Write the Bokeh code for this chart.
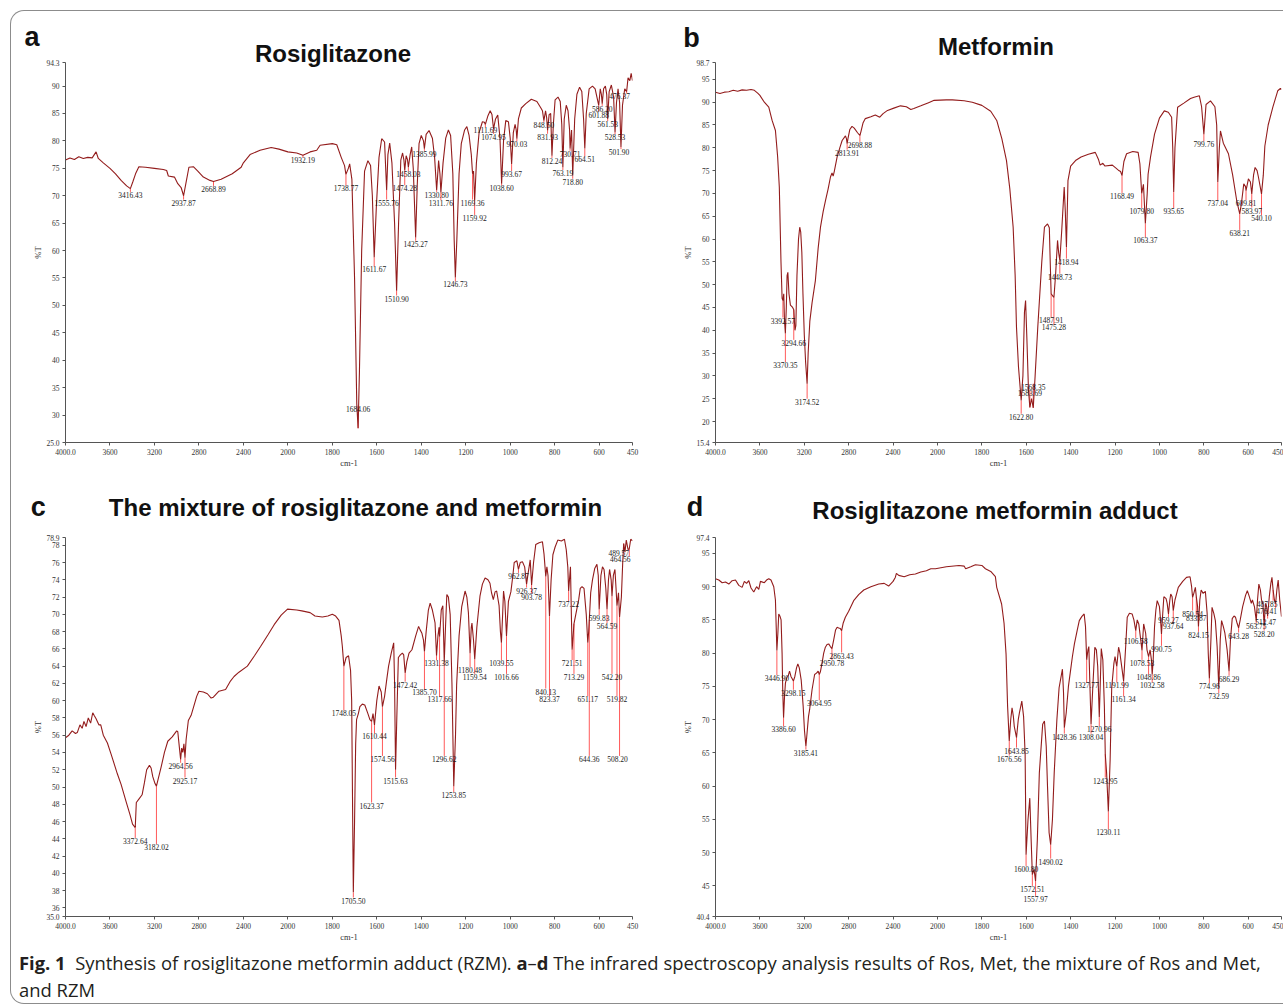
import numpy as np
from bokeh.plotting import figure
from bokeh.models import Range1d, FixedTicker, Div, ColumnDataSource
from bokeh.layouts import column, row
from bokeh.core.properties import value
from bokeh.embed import file_html
from bokeh.resources import INLINE

# ---------------- shared axis ticks (wavenumber, cm-1) ----------------
X_TICKS = [4000, 3600, 3200, 2800, 2400, 2000, 1800, 1600, 1400, 1200, 1000, 800, 600, 450]
X_TICK_LABELS = ["4000.0", "3600", "3200", "2800", "2400", "2000", "1800", "1600",
                 "1400", "1200", "1000", "800", "600", "450"]

# ---------------- panel a: Rosiglitazone ----------------
A_WN = [4000, 3960, 3920, 3880, 3840, 3800, 3760, 3725, 3705, 3660, 3600, 3550, 3500, 3450,
        3416.43, 3395, 3370, 3340, 3280, 3200, 3120, 3090, 3075, 3020, 2990, 2960, 2937.87,
        2915, 2890, 2850, 2810, 2760, 2700, 2668.89, 2600, 2500, 2420, 2400, 2340, 2250, 2150,
        2080, 2000, 1960, 1932.19, 1900, 1870, 1855, 1800, 1780, 1760, 1745, 1738.77, 1728,
        1722, 1712, 1700, 1690, 1684.06, 1678, 1668, 1655, 1640, 1628, 1620, 1611.67, 1602,
        1590, 1578, 1565, 1560, 1555.76, 1550, 1542, 1532, 1520, 1510.90, 1502, 1492, 1484,
        1478, 1474.28, 1468, 1462, 1458.03, 1450, 1443, 1436, 1430, 1425.27, 1418, 1410, 1400,
        1390, 1385.99, 1378, 1365, 1350, 1340, 1330.80, 1322, 1316, 1311.76, 1302, 1290, 1278,
        1268, 1258, 1252, 1246.73, 1240, 1230, 1220, 1205, 1195, 1185, 1175, 1169.36, 1165,
        1159.92, 1152, 1140, 1125, 1116, 1111.69, 1100, 1090, 1082, 1074.95, 1066, 1056, 1046,
        1038.60, 1030, 1020, 1008, 1000, 993.67, 986, 978, 973, 970.03, 963, 950, 930, 905,
        880, 862, 855, 848.50, 841, 836, 831.93, 825, 818, 812.24, 806, 798, 785, 775, 768,
        763.19, 757, 748, 740, 733, 730.71, 724, 718.80, 710, 700, 688, 678, 670, 664.51, 658,
        645, 630, 618, 610, 601.88, 595, 590, 586.20, 580, 572, 566, 561.53, 555, 545, 535,
        528.53, 522, 515, 508, 501.90, 495, 485, 476.37, 470, 462, 456, 450]
A_T = [76.5, 76.9, 76.6, 77.1, 76.8, 77.0, 76.9, 78.0, 76.8, 76.0, 75.0, 74.0, 72.8, 71.8,
       71.3, 72.5, 74.0, 75.3, 75.2, 75.0, 74.8, 74.6, 73.6, 73.4, 72.2, 71.5, 70.0,
       72.5, 75.2, 75.3, 74.5, 73.4, 72.8, 72.6, 73.0, 74.0, 75.2, 76.0, 77.5, 78.3, 78.8,
       78.5, 78.0, 77.8, 77.4, 78.0, 78.3, 79.2, 79.5, 79.3, 77.0, 75.5, 73.9, 75.0,
       75.8, 73.0, 55.0, 32.0, 27.6, 38.0, 60.0, 74.5, 76.4, 75.5, 70.0, 58.8, 68.0,
       77.0, 80.4, 79.8, 75.0, 71.0, 77.5, 79.6, 76.0, 65.0, 52.7, 65.0, 76.5, 77.8,
       76.5, 74.6, 77.3, 76.6, 75.2, 77.5, 78.9, 75.0, 68.0, 62.4, 72.0, 79.5, 81.0,
       80.0, 78.6, 81.2, 81.9, 80.5, 77.0, 71.0, 76.4, 74.0, 70.6, 76.0, 80.5, 82.0,
       81.0, 74.0, 62.0, 55.1, 62.0, 74.0, 79.5, 82.0, 82.6, 81.0, 77.5, 74.0, 74.5,
       69.1, 76.0, 81.5, 83.5, 83.4, 83.0, 84.6, 85.5, 84.8, 82.2, 84.0, 84.7, 80.5,
       72.2, 80.0, 83.7, 83.5, 80.5, 75.8, 81.5, 83.0, 82.0, 80.4, 84.0, 86.0, 86.8, 87.6,
       87.2, 86.0, 85.5, 83.7, 85.5, 84.2, 81.9, 84.8, 85.0, 77.3, 83.0, 87.5, 88.0, 87.2, 83.0,
       75.2, 84.0, 86.5, 85.5, 82.0, 78.6, 82.0, 73.7, 84.0, 88.5, 89.8, 89.0, 84.0, 78.6, 85.0,
       89.5, 90.0, 89.5, 88.0, 86.5, 89.5, 88.5, 86.8, 89.5, 90.0, 88.5, 84.0, 89.0, 90.2, 88.0,
       81.6, 87.0, 89.5, 87.0, 78.9, 86.5, 89.5, 89.0, 91.5, 91.0, 92.3, 91.0]
A_PEAK_LABEL = ["3416.43", "2937.87", "2668.89", "1932.19", "1738.77", "1684.06", "1611.67",
                "1555.76", "1510.90", "1474.28", "1458.03", "1425.27", "1385.99", "1330.80",
                "1311.76", "1246.73", "1169.36", "1159.92", "1111.69", "1074.95", "1038.60",
                "993.67", "970.03", "848.50", "831.93", "812.24", "763.19", "730.71", "718.80",
                "664.51", "601.88", "586.20", "561.53", "528.53", "501.90", "476.37"]
A_PEAK_T = [71.3, 70.0, 72.6, 77.4, 73.9, 27.6, 58.8, 71.0, 52.7, 74.6, 75.2, 62.4, 78.6, 71.0,
            70.6, 55.1, 74.0, 69.1, 83.0, 82.2, 72.2, 75.8, 80.4, 83.7, 81.9, 77.3, 75.2, 78.6,
            73.7, 78.6, 86.5, 86.8, 84.0, 81.6, 78.9, 89.0]
A_PEAK_LY = [70.7, 69.3, 71.8, 77.0, 71.9, 31.7, 57.1, 69.3, 51.8, 71.9, 74.5, 61.8, 78.2, 70.7,
             69.2, 54.4, 69.3, 66.5, 82.5, 81.3, 71.9, 74.5, 79.9, 83.4, 81.3, 76.9, 74.7, 78.2,
             73.1, 77.2, 85.3, 86.4, 83.6, 81.2, 78.5, 88.7]
A_LABEL_SHIFT = {"476.37": -7, "501.90": -2}
A_Y_TICKS = [25.0, 30, 35, 40, 45, 50, 55, 60, 65, 70, 75, 80, 85, 90, 94.3]
A_Y_LABELS = ["25.0", "30", "35", "40", "45", "50", "55", "60", "65", "70", "75", "80", "85", "90", "94.3"]

# ---------------- panel b: Metformin ----------------
B_WN = [4000, 3960, 3920, 3880, 3840, 3800, 3760, 3720, 3680, 3650, 3620, 3600, 3560, 3520,
        3490, 3460, 3440, 3425, 3410, 3400, 3392.57, 3385, 3378, 3370.35, 3362, 3355, 3348,
        3338, 3325, 3305, 3294.66, 3284, 3276, 3266, 3252, 3241, 3232, 3222, 3212, 3200, 3188,
        3174.52, 3165, 3150, 3130, 3100, 3075, 3054, 3030, 3009, 2985, 2964, 2950, 2940, 2930,
        2904, 2880, 2859, 2829, 2820, 2813.91, 2805, 2790, 2770, 2750, 2720, 2698.88, 2690,
        2670, 2650, 2600, 2560, 2520, 2490, 2450, 2393, 2333, 2280, 2240, 2213, 2150, 2080,
        2030, 1960, 1933, 1880, 1843, 1800, 1760, 1733, 1710, 1689, 1674, 1659, 1650, 1644,
        1635, 1622.80, 1615, 1608, 1603, 1597, 1590, 1583.69, 1576, 1568.35, 1560, 1548, 1530,
        1518, 1504, 1496, 1492, 1487.91, 1480, 1475.28, 1468, 1459, 1454, 1448.73, 1440, 1429,
        1424, 1418.94, 1412, 1400, 1378, 1353, 1320, 1289, 1275, 1267, 1255, 1245, 1212, 1185,
        1175, 1168.49, 1160, 1148, 1120, 1096, 1088, 1079.80, 1072, 1063.37, 1055, 1051, 1040,
        1022, 1000, 978, 960, 945, 940, 935.65, 930, 918, 890, 860, 844, 820, 810, 799.76, 790,
        770, 750, 742, 737.04, 730, 725, 712, 689, 670, 652, 638.21, 630, 620, 612, 609.81, 599,
        590, 583.97, 576, 569, 560, 554, 540.10, 532, 525, 510, 489, 467, 455, 450]
B_T = [92.2, 91.9, 92.2, 92.3, 92.6, 92.4, 92.7, 92.6, 92.8, 92.6, 92.0, 91.5, 90.0, 88.9,
       86.0, 83.8, 78.0, 71.4, 55.0, 47.0, 46.5, 48.0, 42.0, 39.3, 45.0, 52.0, 52.7,
       48.0, 45.5, 45.0, 44.5, 40.0, 41.0, 52.0, 60.0, 62.6, 61.5, 57.0, 48.0, 39.0, 33.0,
       28.3, 35.0, 42.0, 46.0, 50.9, 58.0, 62.6, 66.0, 68.4, 71.0, 73.6, 74.5, 73.8, 74.8,
       78.0, 80.0, 81.6, 82.6, 82.0, 80.9, 82.2, 84.0, 84.7, 84.3, 83.3, 82.7, 83.5,
       85.5, 86.4, 86.8, 87.2, 86.7, 87.5, 88.2, 88.7, 89.2, 89.0, 88.4, 88.6, 89.2, 89.9,
       90.4, 90.5, 90.5, 90.3, 90.0, 89.3, 88.0, 86.0, 82.0, 77.2, 71.0, 62.6, 52.0, 40.7,
       32.0, 24.6, 30.0, 44.0, 46.5, 38.0, 27.0, 23.1, 25.0, 23.0, 30.0, 40.7, 55.0,
       62.6, 63.3, 62.5, 55.0, 48.0, 47.5, 47.2, 52.0, 59.7, 57.0, 55.3, 62.0, 71.4,
       66.0, 58.2, 72.8, 76.0, 77.2, 78.0, 78.6, 79.0, 77.5, 76.2, 76.6, 76.0, 76.2, 75.1,
       74.8, 73.9, 77.0, 78.7, 79.2, 79.0, 76.5, 70.0, 72.0, 63.4, 70.0, 74.2, 78.0,
       83.0, 86.5, 88.1, 87.8, 86.7, 80.0, 70.3, 80.0, 88.9, 89.8, 90.8, 91.1, 91.4, 89.0, 83.0, 89.5,
       90.3, 89.0, 85.0, 72.5, 80.0, 83.7, 81.0, 78.7, 74.0, 68.5, 65.5, 68.0, 72.1, 71.5, 70.6, 73.2,
       72.5, 69.9, 74.0, 75.7, 75.0, 73.6, 69.9, 74.0, 80.4, 85.0, 88.9, 92.5, 93.0, 92.8]
B_PEAK_LABEL = ["3392.57", "3370.35", "3294.66", "3174.52", "2813.91", "2698.88", "1622.80",
                "1583.69", "1568.35", "1487.91", "1475.28", "1448.73", "1418.94", "1168.49",
                "1079.80", "1063.37", "935.65", "799.76", "737.04", "638.21", "609.81", "583.97",
                "540.10"]
B_PEAK_T = [46.5, 39.3, 44.5, 28.3, 80.9, 82.7, 24.6, 23.1, 23.0, 48.0, 47.2, 55.3, 58.2, 73.9,
            70.0, 63.4, 70.3, 83.0, 72.5, 65.5, 70.6, 69.9, 69.9]
B_PEAK_LY = [42.8, 33.0, 37.9, 25.0, 79.6, 81.3, 21.7, 26.8, 28.3, 42.9, 41.3, 52.4, 55.7, 70.1,
             66.8, 60.4, 66.8, 81.4, 68.5, 62.0, 68.5, 66.9, 65.2]
B_LABEL_SHIFT = {}
B_Y_TICKS = [15.4, 20, 25, 30, 35, 40, 45, 50, 55, 60, 65, 70, 75, 80, 85, 90, 95, 98.7]
B_Y_LABELS = ["15.4", "20", "25", "30", "35", "40", "45", "50", "55", "60", "65", "70", "75",
              "80", "85", "90", "95", "98.7"]

# ---------------- panel c: mixture ----------------
C_WN = [4000, 3970, 3940, 3910, 3894, 3870, 3850, 3834, 3815, 3795, 3774, 3755, 3743, 3725,
        3700, 3683, 3660, 3623, 3590, 3560, 3533, 3500, 3457, 3420, 3397, 3372.64, 3363, 3340,
        3311, 3290, 3270, 3245, 3230, 3215, 3195, 3182.02, 3165, 3140, 3110, 3080, 3040, 3000,
        2990, 2975, 2964.56, 2955, 2945, 2935, 2925.17, 2915, 2895, 2870, 2845, 2820, 2800,
        2760, 2724, 2690, 2670, 2620, 2560, 2520, 2484, 2440, 2364, 2300, 2244, 2180, 2123,
        2060, 2003, 1960, 1937, 1900, 1878, 1845, 1820, 1800, 1785, 1770, 1760, 1755, 1748.05,
        1738, 1727, 1718, 1713, 1708, 1705.50, 1700, 1695, 1691, 1683, 1676, 1665, 1654, 1640,
        1631, 1623.37, 1617, 1610.44, 1600, 1590, 1580, 1574.56, 1565, 1555, 1547, 1535, 1524,
        1520, 1515.63, 1510, 1503, 1494, 1485, 1479, 1472.42, 1465, 1455, 1442, 1425, 1412,
        1405, 1397, 1390, 1385.70, 1378, 1368, 1360, 1350, 1338, 1331.38, 1325, 1320, 1317.66,
        1310, 1303, 1296.62, 1291, 1285, 1278, 1270, 1262, 1253.85, 1246, 1241, 1230, 1218,
        1203, 1195, 1188, 1180.48, 1175, 1172, 1165, 1159.54, 1150, 1136, 1125, 1113, 1100,
        1091, 1084, 1076, 1068, 1061, 1050, 1044, 1039.55, 1034, 1030, 1024, 1016.66, 1008, 997,
        988, 982, 970, 962.87, 955, 945, 935, 926.37, 918, 910, 903.78, 895, 885, 870, 855, 848,
        840.13, 835, 830, 823.37, 816, 808, 798, 786, 770, 756, 748, 741, 737.22, 732, 729, 725,
        721.51, 717, 713.29, 705, 692, 685, 677, 668, 658, 651.17, 647, 644.36, 638, 630, 620,
        610, 604, 599.83, 592, 585, 578, 570, 564.59, 558, 553, 546, 542.20, 536, 529, 524,
        519.82, 513, 508.20, 500, 494, 489.57, 484, 478, 470, 464.56, 458, 450]
C_T = [55.7, 56.0, 56.5, 56.2, 56.3, 57.2, 56.8, 57.6, 57.0, 58.0, 57.4, 58.6, 58.3, 57.9,
       57.2, 57.2, 56.0, 55.1, 53.8, 52.6, 51.5, 50.3, 48.4, 46.8, 45.7, 45.3, 48.2, 48.6,
       49.1, 50.5, 52.0, 52.5, 52.2, 51.2, 50.4, 50.1, 51.0, 52.3, 54.0, 55.3, 55.8, 56.5,
       56.4, 54.5, 53.2, 54.5, 54.0, 55.0, 53.4, 55.5, 57.7, 58.3, 59.4, 60.5, 61.1,
       61.0, 60.8, 60.3, 60.4, 61.1, 61.3, 62.2, 62.8, 63.3, 64.0, 65.2, 66.3, 67.6, 68.8,
       69.9, 70.6, 70.5, 70.4, 70.2, 69.8, 69.7, 69.8, 70.0, 69.8, 69.3, 67.5, 66.3, 64.0,
       65.0, 65.2, 63.5, 60.0, 45.0, 37.8, 46.0, 55.0, 57.8, 58.5, 59.3, 59.6, 59.5, 58.5,
       57.8, 57.6, 58.5, 57.2, 60.0, 61.7, 61.0, 59.3, 60.5, 62.5, 64.0, 65.5, 66.7,
       62.0, 52.0, 58.0, 65.0, 65.3, 65.5, 65.3, 63.2, 64.5, 65.5, 65.9, 67.5, 68.6,
       68.2, 67.8, 67.0, 65.7, 68.0, 70.5, 71.3, 70.5, 69.0, 65.2, 67.5, 68.5, 67.4,
       70.5, 71.0, 64.5, 68.5, 72.3, 72.0, 70.0, 62.0, 50.1, 56.0, 61.8, 67.5, 70.9,
       72.7, 72.0, 70.2, 65.5, 68.5, 69.0, 67.0, 64.8, 68.5, 72.1, 73.5, 74.2, 74.0,
       73.6, 72.5, 71.7, 72.6, 72.7, 71.0, 68.0, 66.7, 70.0, 72.7, 71.5, 67.5, 71.5, 72.6,
       74.5, 76.0, 76.2, 75.2, 76.0, 76.1, 75.5, 73.5, 75.0, 76.3, 73.4, 76.0, 78.1, 78.3, 78.4, 77.0,
       74.4, 75.5, 74.5, 69.8, 74.0, 76.9, 77.8, 78.6, 78.5, 78.7, 77.5, 75.5, 72.7, 74.5, 75.5, 70.0,
       65.9, 67.5, 68.9, 70.0, 71.7, 73.0, 73.2, 73.0, 70.0, 66.7, 68.0, 69.3, 72.5, 74.0, 75.3,
       75.8, 74.5, 70.6, 74.5, 75.5, 75.2, 73.0, 70.6, 74.0, 75.2, 74.0, 72.1, 74.5, 75.2, 73.0,
       71.0, 72.5, 69.7, 72.0, 76.0, 78.2, 77.2, 78.6, 77.5, 77.6, 78.7, 78.5]
C_PEAK_LABEL = ["3372.64", "3182.02", "2964.56", "2925.17", "1748.05", "1705.50", "1623.37",
                "1610.44", "1574.56", "1515.63", "1472.42", "1385.70", "1331.38", "1317.66",
                "1296.62", "1253.85", "1180.48", "1159.54", "1039.55", "1016.66", "962.87",
                "926.37", "903.78", "840.13", "823.37", "737.22", "721.51", "713.29", "651.17",
                "644.36", "599.83", "564.59", "542.20", "519.82", "508.20", "489.57", "464.56"]
C_PEAK_T = [45.3, 50.1, 53.2, 53.4, 64.0, 37.8, 57.6, 57.2, 59.3, 52.0, 63.2, 65.7, 65.2, 67.4,
            64.5, 50.1, 65.5, 64.8, 66.7, 67.5, 75.2, 73.5, 73.4, 74.4, 69.8, 72.7, 65.9, 68.9,
            66.7, 69.3, 70.6, 70.6, 72.1, 71.0, 69.7, 78.2, 77.6]
C_PEAK_LY = [44.1, 43.4, 52.8, 51.1, 58.9, 37.2, 48.2, 56.2, 53.6, 51.1, 62.2, 61.3, 64.7, 60.5,
             53.6, 49.4, 63.9, 63.1, 64.7, 63.1, 74.8, 73.1, 72.4, 61.4, 60.5, 71.5, 64.7, 63.1,
             60.5, 53.6, 69.9, 69.0, 63.1, 60.5, 53.6, 77.5, 76.7]
C_LABEL_SHIFT = {"489.57": -5, "464.56": -9, "508.20": -2}
C_Y_TICKS = [35.0, 36, 38, 40, 42, 44, 46, 48, 50, 52, 54, 56, 58, 60, 62, 64, 66, 68, 70, 72,
             74, 76, 78, 78.9]
C_Y_LABELS = ["35.0", "36", "38", "40", "42", "44", "46", "48", "50", "52", "54", "56", "58",
              "60", "62", "64", "66", "68", "70", "72", "74", "76", "78", "78.9"]

# ---------------- panel d: adduct ----------------
D_WN = [4000, 3970, 3940, 3910, 3880, 3850, 3820, 3790, 3760, 3740, 3720, 3700, 3680, 3655,
        3630, 3610, 3595, 3560, 3540, 3520, 3500, 3475, 3460, 3446.90, 3438, 3430, 3420, 3409,
        3400, 3394, 3386.60, 3378, 3370, 3358, 3345, 3333, 3320, 3310, 3298.15, 3285, 3270,
        3258, 3245, 3228, 3210, 3198, 3185.41, 3175, 3162, 3152, 3130, 3107, 3090, 3075,
        3064.95, 3055, 3040, 3025, 3010, 2995, 2980, 2965, 2950.78, 2935, 2918, 2904, 2890,
        2875, 2863.43, 2850, 2830, 2800, 2755, 2710, 2664, 2600, 2529, 2480, 2440, 2400, 2380,
        2370, 2349, 2300, 2250, 2199, 2150, 2100, 2060, 2018, 1960, 1903, 1880, 1873, 1850,
        1829, 1800, 1784, 1760, 1739, 1733, 1711, 1700, 1691, 1684, 1676.56, 1670, 1664, 1658,
        1654, 1643.85, 1636, 1631, 1620, 1612, 1605, 1600.80, 1592, 1584, 1578, 1572.51, 1565,
        1557.97, 1550, 1541, 1526, 1518, 1510, 1504, 1497, 1490.02, 1482, 1474, 1462, 1452,
        1437, 1432, 1428.36, 1420, 1410, 1402, 1392, 1383, 1370, 1361, 1350, 1339, 1333,
        1327.77, 1322, 1318, 1313, 1308.04, 1300, 1291, 1284, 1278, 1270.96, 1266, 1262, 1255,
        1248, 1243.95, 1238, 1230.11, 1222, 1215, 1205, 1200, 1195, 1191.99, 1184, 1178, 1172,
        1166, 1161.34, 1152, 1145, 1135, 1123, 1115, 1106.58, 1100, 1093, 1086, 1078.53, 1071,
        1062, 1056, 1048.86, 1042, 1036, 1032.58, 1028, 1022, 1016, 1010, 1000, 995, 990.75,
        985, 980, 970, 965, 959.27, 953, 949, 943, 937.64, 930, 915, 895, 878, 862, 855, 850.54,
        845, 838, 833.87, 828, 824.15, 818, 812, 803, 793, 785, 780, 774.96, 768, 763, 755, 748,
        740, 732.59, 726, 720, 712, 705, 695, 686.29, 680, 672, 664, 657, 650, 643.28, 636, 625,
        612, 604, 595, 586, 581, 572, 563.75, 558, 552, 545, 540, 534, 528.20, 522, 517, 512.47,
        505, 498, 493, 487.85, 482, 476.41, 471, 465, 458, 450]
D_T = [91.2, 91.0, 90.6, 90.7, 90.4, 90.9, 91.0, 90.2, 89.9, 90.8, 90.5, 90.9, 89.8, 89.2,
       90.0, 89.6, 90.8, 90.6, 91.0, 91.2, 91.0, 90.0, 88.0, 80.4, 83.0, 85.9, 85.6, 85.0,
       80.0, 74.3, 70.3, 73.5, 75.5, 76.3, 76.6, 77.3, 76.5, 76.2, 75.8, 76.5, 77.8,
       78.4, 77.8, 76.0, 72.0, 68.3, 66.0, 68.0, 70.5, 71.5, 74.5, 76.8, 77.0, 77.3,
       76.8, 77.2, 78.5, 80.0, 80.9, 81.3, 81.4, 81.0, 80.7, 82.0, 83.5, 83.9, 83.8,
       83.7, 83.4, 84.5, 85.4, 86.3, 87.9, 88.8, 89.5, 90.0, 90.4, 90.5, 90.1, 90.8, 91.4,
       92.0, 91.7, 91.5, 91.8, 91.9, 92.2, 92.4, 92.7, 92.7, 93.0, 93.2, 93.1, 92.7, 93.0,
       93.3, 93.2, 92.7, 92.3, 91.5, 89.9, 87.4, 84.5, 79.9, 72.0, 66.8, 70.0, 71.8, 70.5,
       69.0, 67.3, 70.0, 71.0, 72.8, 70.5, 64.8, 49.7, 55.0, 58.2, 52.0, 46.7, 47.5,
       45.7, 52.0, 62.0, 69.3, 69.8, 66.0, 59.8, 53.0, 51.2, 55.0, 62.0, 70.0, 74.8,
       77.6, 74.0, 68.8, 71.0, 75.0, 77.0, 79.5, 81.4, 83.5, 84.9, 85.5, 85.9, 84.0,
       79.0, 80.5, 81.0, 75.0, 69.3, 75.0, 80.9, 80.5, 78.0, 70.4, 76.0, 80.7, 79.0,
       72.0, 64.8, 62.0, 56.2, 64.0, 74.8, 78.5, 79.5, 78.5, 78.0, 80.9, 80.0, 78.5,
       77.0, 75.8, 81.0, 85.4, 86.0, 85.9, 85.0, 83.4, 85.0, 84.4, 82.5, 80.4, 84.4,
       83.0, 80.5, 79.5, 80.5, 79.0, 76.8, 79.0, 84.0, 86.5, 87.9, 87.0, 85.0, 82.9,
       86.0, 88.5, 88.2, 87.5, 85.9, 88.0, 88.9, 88.5, 86.4, 88.0, 89.9, 90.8, 91.4, 91.5, 90.0, 88.4,
       89.0, 89.9, 88.5, 87.0, 84.0, 88.0, 89.5, 89.0, 89.3, 86.0, 80.0, 76.2, 82.0, 86.9, 86.0, 84.9,
       81.0, 74.8, 82.0, 84.9, 84.0, 83.0, 80.5, 77.3, 82.0, 85.2, 85.6, 85.4, 84.5, 83.8, 85.0, 87.0,
       88.7, 89.4, 88.5, 87.5, 88.0, 87.0, 84.9, 88.0, 90.4, 89.5, 88.0, 87.5, 84.2, 87.5, 87.0, 85.6,
       88.5, 90.5, 91.4, 89.5, 88.0, 87.5, 89.5, 91.0, 88.0, 85.5]
D_PEAK_LABEL = ["3446.90", "3386.60", "3298.15", "3185.41", "3064.95", "2950.78", "2863.43",
                "1676.56", "1643.85", "1600.80", "1572.51", "1557.97", "1490.02", "1428.36",
                "1327.77", "1308.04", "1270.96", "1243.95", "1230.11", "1191.99", "1161.34",
                "1106.58", "1078.53", "1048.86", "1032.58", "990.75", "959.27", "937.64",
                "850.54", "833.87", "824.15", "774.96", "732.59", "686.29", "643.28", "563.75",
                "528.20", "512.47", "487.85", "476.41"]
D_PEAK_T = [80.4, 70.3, 75.8, 66.0, 76.8, 80.7, 83.4, 66.8, 67.3, 49.7, 46.7, 45.7, 51.2, 68.8,
            79.0, 69.3, 70.4, 64.8, 56.2, 78.0, 75.8, 83.4, 80.4, 79.5, 76.8, 82.9, 85.9, 86.4,
            88.4, 88.5, 84.0, 76.2, 74.8, 77.3, 83.8, 84.9, 84.2, 85.6, 89.5, 87.5]
D_PEAK_LY = [76.7, 69.0, 74.5, 65.5, 72.9, 79.0, 80.1, 64.6, 65.8, 48.0, 45.0, 43.5, 49.1, 67.9,
             75.6, 67.9, 69.0, 61.3, 53.5, 75.6, 73.5, 82.3, 79.0, 76.8, 75.6, 81.1, 85.4, 84.5,
             86.4, 85.7, 83.2, 75.5, 74.0, 76.6, 83.1, 84.5, 83.4, 85.2, 87.9, 86.8]
D_LABEL_SHIFT = {"487.85": -6, "476.41": -9, "512.47": -2}
D_Y_TICKS = [40.4, 45, 50, 55, 60, 65, 70, 75, 80, 85, 90, 95, 97.4]
D_Y_LABELS = ["40.4", "45", "50", "55", "60", "65", "70", "75", "80", "85", "90", "95", "97.4"]

PANEL_LETTERS = ["a", "b", "c", "d"]
PANEL_TITLES = ["Rosiglitazone", "Metformin", "The mixture of rosiglitazone and metformin",
                "Rosiglitazone metformin adduct"]
CAPTION = ("<b>Fig. 1</b>&nbsp; Synthesis of rosiglitazone metformin adduct (RZM). "
           "<b>a</b>&ndash;<b>d</b> The infrared spectroscopy analysis results of Ros, Met, "
           "the mixture of Ros and Met,<br>and RZM")


def split_axis(wn):
    """Spectrometer abscissa: the scale doubles below 2000 cm-1."""
    wn = np.asarray(wn, dtype=float)
    return np.where(wn >= 2000, wn, 2 * wn - 2000)


SERIF = "Times"


def make_panel(wn, t, pk_lab, pk_t, pk_ly, shifts, yticks, ylabels, width, height,
               bl, br, bt, bb):
    p = figure(width=width, height=height,
               x_range=Range1d(4000, float(split_axis([450])[0])),
               y_range=Range1d(yticks[0], yticks[-1]),
               output_backend="svg", toolbar_location=None,
               min_border_left=bl, min_border_right=br,
               min_border_top=bt, min_border_bottom=bb,
               x_axis_label="cm-1", y_axis_label="%T")
    p.grid.visible = False
    p.outline_line_color = None
    p.background_fill_color = "white"
    p.border_fill_color = "white"

    xt = [float(v) for v in split_axis(X_TICKS)]
    p.xaxis.ticker = FixedTicker(ticks=xt)
    p.xaxis.major_label_overrides = {k: lab for k, lab in zip(xt, X_TICK_LABELS)}
    p.yaxis.ticker = FixedTicker(ticks=[float(v) for v in yticks])
    p.yaxis.major_label_overrides = {float(k): lab for k, lab in zip(yticks, ylabels)}
    for ax in (p.xaxis[0], p.yaxis[0]):
        ax.axis_line_color = "#555555"
        ax.axis_line_width = 1
        ax.major_tick_line_color = "#555555"
        ax.major_tick_out = 3
        ax.major_tick_in = 0
        ax.minor_tick_line_color = None
        ax.major_label_text_font = SERIF
        ax.major_label_text_font_size = "7.5px"
        ax.major_label_text_color = "#333333"
        ax.major_label_standoff = 3
        ax.axis_label_text_font = SERIF
        ax.axis_label_text_font_size = "8.5px"
        ax.axis_label_text_font_style = "normal"
        ax.axis_label_text_color = "#333333"
        ax.axis_label_standoff = 0

    src = ColumnDataSource(dict(x=split_axis([float(s) for s in pk_lab]),
                                t=pk_t, ly=pk_ly, lab=pk_lab,
                                dx=[shifts.get(s, 0) for s in pk_lab]))
    p.segment(x0="x", y0="t", x1="x", y1="ly", source=src,
              line_color="#ff5a5a", line_width=1)
    p.line(split_axis(wn), t, line_color="#931c1c", line_width=1.1)
    p.text(x="x", y="ly", text="lab", x_offset="dx", source=src, text_align="center",
           text_baseline="top", text_font=value(SERIF), text_font_size="7.5px",
           text_color="#1a1a1a")
    return p


pa = make_panel(A_WN, A_T, A_PEAK_LABEL, A_PEAK_T, A_PEAK_LY, A_LABEL_SHIFT,
                A_Y_TICKS, A_Y_LABELS, 672, 480, 57, 48, 54, 46)
pb = make_panel(B_WN, B_T, B_PEAK_LABEL, B_PEAK_T, B_PEAK_LY, B_LABEL_SHIFT,
                B_Y_TICKS, B_Y_LABELS, 603, 480, 33, 2, 54, 46)
pc = make_panel(C_WN, C_T, C_PEAK_LABEL, C_PEAK_T, C_PEAK_LY, C_LABEL_SHIFT,
                C_Y_TICKS, C_Y_LABELS, 672, 460, 57, 48, 49, 32)
pd = make_panel(D_WN, D_T, D_PEAK_LABEL, D_PEAK_T, D_PEAK_LY, D_LABEL_SHIFT,
                D_Y_TICKS, D_Y_LABELS, 603, 460, 33, 2, 49, 32)

caption = Div(text=('<div style="font-family:\'Open Sans\',sans-serif;font-size:18.4px;'
                    'line-height:27px;color:#231f20;padding:1px 0 0 11px;white-space:nowrap;">'
                    + CAPTION + '</div>'),
              width=1275, height=52, margin=0)

# letters and titles, laid over the four panels (positions in px from the figure's top-left)
LETTER_POS = [(24, 29.3), (683.5, 29.6), (30.3, 498.6), (687, 498.6)]
TITLE_POS = [(325, 45.5), (988, 38.7), (347.5, 500.4), (987, 503)]
spans = ['<div style="position:absolute;left:2px;top:2px;width:1273px;height:994px;'
         'box-sizing:border-box;border:1.5px solid #8c8c8c;border-right:none;'
         'border-radius:14px 0 0 14px;"></div>']
for txt, (x, y) in zip(PANEL_LETTERS, LETTER_POS):
    spans.append('<span style="position:absolute;left:%gpx;top:%gpx;transform:translate(-50%%,-50%%);'
                 'font-family:\'Liberation Sans\',Arial,sans-serif;font-weight:bold;font-size:27px;'
                 'line-height:normal;color:#111;white-space:nowrap;">%s</span>' % (x, y, txt))
for txt, (x, y) in zip(PANEL_TITLES, TITLE_POS):
    spans.append('<span style="position:absolute;left:%gpx;top:%gpx;transform:translate(-50%%,-50%%);'
                 'font-family:\'Liberation Sans\',Arial,sans-serif;font-weight:bold;font-size:24px;'
                 'line-height:normal;color:#111;white-space:nowrap;">%s</span>' % (x, y, txt))
overlay = Div(text='<div style="position:relative;width:1275px;height:998px;">' + "".join(spans) + '</div>',
              width=1275, height=998, margin=0,
              styles={"position": "absolute", "top": "0px", "left": "0px",
                      "pointer-events": "none", "z-index": "5"})

layout = column(row(pa, pb), row(pc, pd), caption, overlay, margin=(8, 0, 0, 8))

open("out.html", "w").write(file_html(layout, INLINE))
